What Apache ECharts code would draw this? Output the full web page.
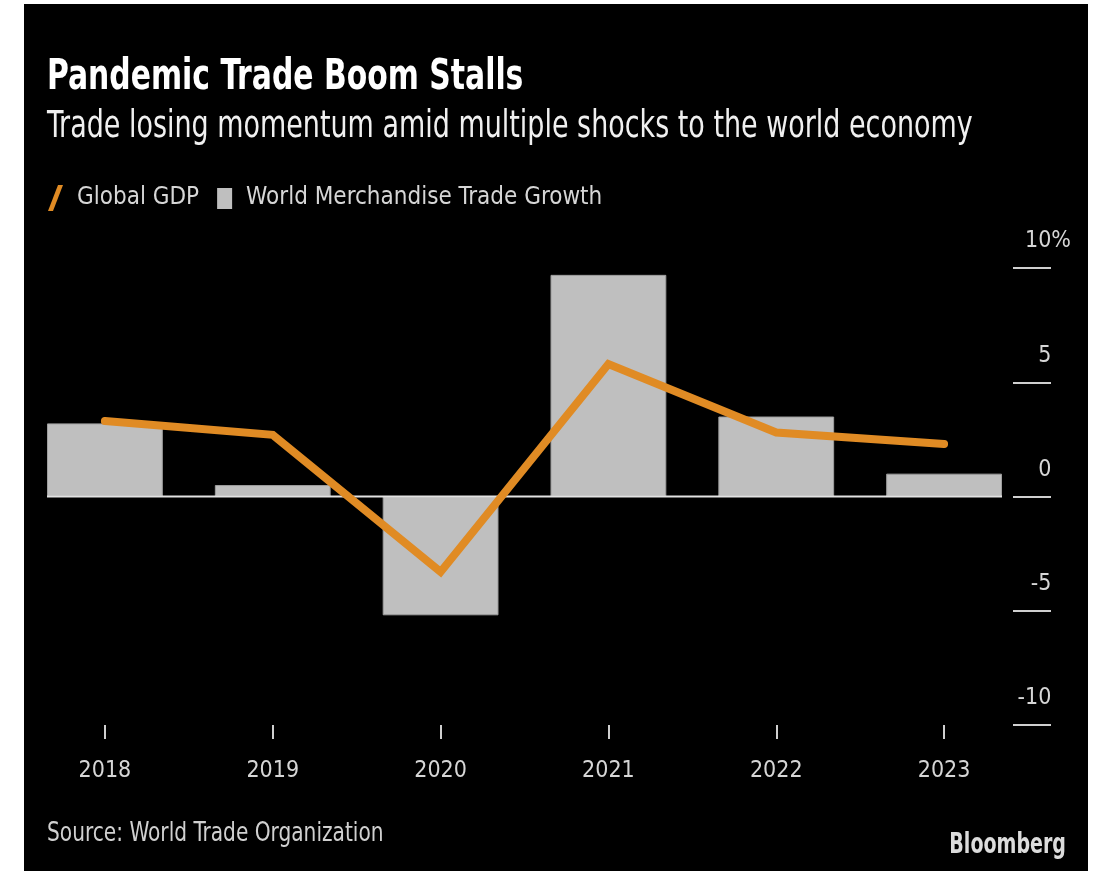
<!DOCTYPE html>
<html>
<head>
<meta charset="utf-8">
<title>Pandemic Trade Boom Stalls</title>
<script src="https://cdn.jsdelivr.net/npm/echarts@6/dist/echarts.min.js"></script>
<style>
  html, body { margin: 0; padding: 0; background: #ffffff; }
  #chart { width: 1099px; height: 871px; }
</style>
</head>
<body>
<div id="chart"></div>
<script>
// Annual growth, percent
const years = ['2018', '2019', '2020', '2021', '2022', '2023'];
const globalGdp = [3.3, 2.7, -3.3, 5.8, 2.8, 2.3];
const tradeGrowth = [3.2, 0.5, -5.2, 9.7, 3.5, 1.0];
const yTicks = [-10, -5, 0, 5, 10];

const FONT = '"Liberation Sans Narrow", "DejaVu Sans Condensed", "Liberation Sans", sans-serif';
const ORANGE = '#e08b24';
const BAR_GRAY = '#bfbfbf';
const LABEL = '#d6d6d6';
const CAT_GAP = 0.31;

const chart = echarts.init(document.getElementById('chart'), null, { renderer: 'canvas' });

// Headline, source and logo are drawn as condensed text (horizontally squeezed)
function headText(id, text, x, y, size, weight, color, squeeze, align) {
  return {
    type: 'text', id: id, x: x, y: y, scaleX: squeeze, silent: true, z: 10,
    style: {
      text: text, fill: color, fontFamily: FONT, fontSize: size, fontWeight: weight,
      textAlign: align || 'left', textVerticalAlign: 'top'
    }
  };
}

const option = {
  backgroundColor: '#ffffff',
  animation: false,
  textStyle: { fontFamily: FONT },
  legend: {
    left: 43, top: 180,
    itemWidth: 15, itemHeight: 26, itemGap: 18,
    selectedMode: false,
    textStyle: { color: LABEL, fontSize: 24, fontFamily: FONT, padding: [0, 0, 0, 9] },
    data: [
      {
        name: 'Global GDP',
        icon: 'path://M10,0 L15,0 L5,26 L0,26 Z',
        itemStyle: { color: ORANGE, borderWidth: 0 }
      },
      {
        name: 'World Merchandise Trade Growth',
        icon: 'path://M0,0 L0,0.01 L0.01,0 Z M0,3 L15,3 L15,24 L0,24 Z M0,26 L0,25.99 L0.01,26 Z',
        itemStyle: { color: BAR_GRAY, borderWidth: 0 }
      }
    ]
  },
  grid: { left: 21, right: 71, top: 268, bottom: 146, containLabel: false },
  xAxis: {
    type: 'category',
    data: years,
    boundaryGap: true,
    axisLine: { show: false, onZero: false },
    axisTick: { show: true, alignWithLabel: true, length: 14, lineStyle: { color: '#cfcfcf', width: 2 } },
    axisLabel: { color: LABEL, fontSize: 23, fontFamily: FONT, margin: 35 },
    splitLine: { show: false }
  },
  yAxis: {
    type: 'value',
    position: 'right',
    offset: -15,
    min: yTicks[0], max: yTicks[yTicks.length - 1], interval: 5,
    axisLine: { show: false },
    axisTick: { show: true, length: 38, lineStyle: { color: '#cfcfcf', width: 2 } },
    splitLine: { show: false },
    axisLabel: {
      color: LABEL, fontSize: 23, fontFamily: FONT,
      align: 'right', verticalAlign: 'bottom', margin: 58,
      padding: [0, 0, 15, 0],
      formatter: function (v) {
        return v === yTicks[yTicks.length - 1] ? v + '%' : v + '{h|%}';
      },
      rich: { h: { color: 'rgba(0,0,0,0)', fontSize: 23, fontFamily: FONT } }
    }
  },
  graphic: [
    { type: 'rect', id: 'panel', z: -100, silent: true, shape: { x: 24, y: 4, width: 1064, height: 867 }, style: { fill: '#000000' } },
    headText('title', 'Pandemic Trade Boom Stalls', 47, 57, 42, 'bold', '#ffffff', 0.79),
    headText('subtitle', 'Trade losing momentum amid multiple shocks to the world economy', 47, 109, 37, 'normal', '#f0f0f0', 0.81),
    headText('source', 'Source: World Trade Organization', 47, 820, 27, 'normal', '#d0d0d0', 0.83),
    headText('logo', 'Bloomberg', 1066, 831, 29, 'bold', '#dcdcdc', 0.73, 'right')
  ],
  series: [
    {
      name: 'World Merchandise Trade Growth',
      type: 'bar',
      data: tradeGrowth,
      barCategoryGap: (CAT_GAP * 100) + '%',
      itemStyle: { color: BAR_GRAY, borderColor: '#9e9e9e', borderWidth: 1 },
      z: 2
    },
    {
      name: 'Global GDP',
      type: 'line',
      data: globalGdp,
      showSymbol: false,
      symbol: 'none',
      lineStyle: { color: ORANGE, width: 8, cap: 'round', join: 'miter' },
      itemStyle: { color: ORANGE },
      z: 5
    }
  ]
};

chart.setOption(option);

// Zero baseline spanning from the first bar's left edge to the last bar's right edge
function drawBaseline() {
  const p0 = chart.convertToPixel({ xAxisIndex: 0, yAxisIndex: 0 }, [0, 0]);
  const p1 = chart.convertToPixel({ xAxisIndex: 0, yAxisIndex: 0 }, [1, 0]);
  const pN = chart.convertToPixel({ xAxisIndex: 0, yAxisIndex: 0 }, [years.length - 1, 0]);
  const half = (p1[0] - p0[0]) * (1 - CAT_GAP) / 2;
  chart.setOption({
    graphic: [
      {
        type: 'line', id: 'zero', z: 3, silent: true,
        shape: { x1: p0[0] - half, y1: p0[1], x2: pN[0] + half, y2: p0[1] },
        style: { stroke: '#e2e2e2', lineWidth: 2 }
      }
    ]
  });
}
drawBaseline();
</script>
</body>
</html>
